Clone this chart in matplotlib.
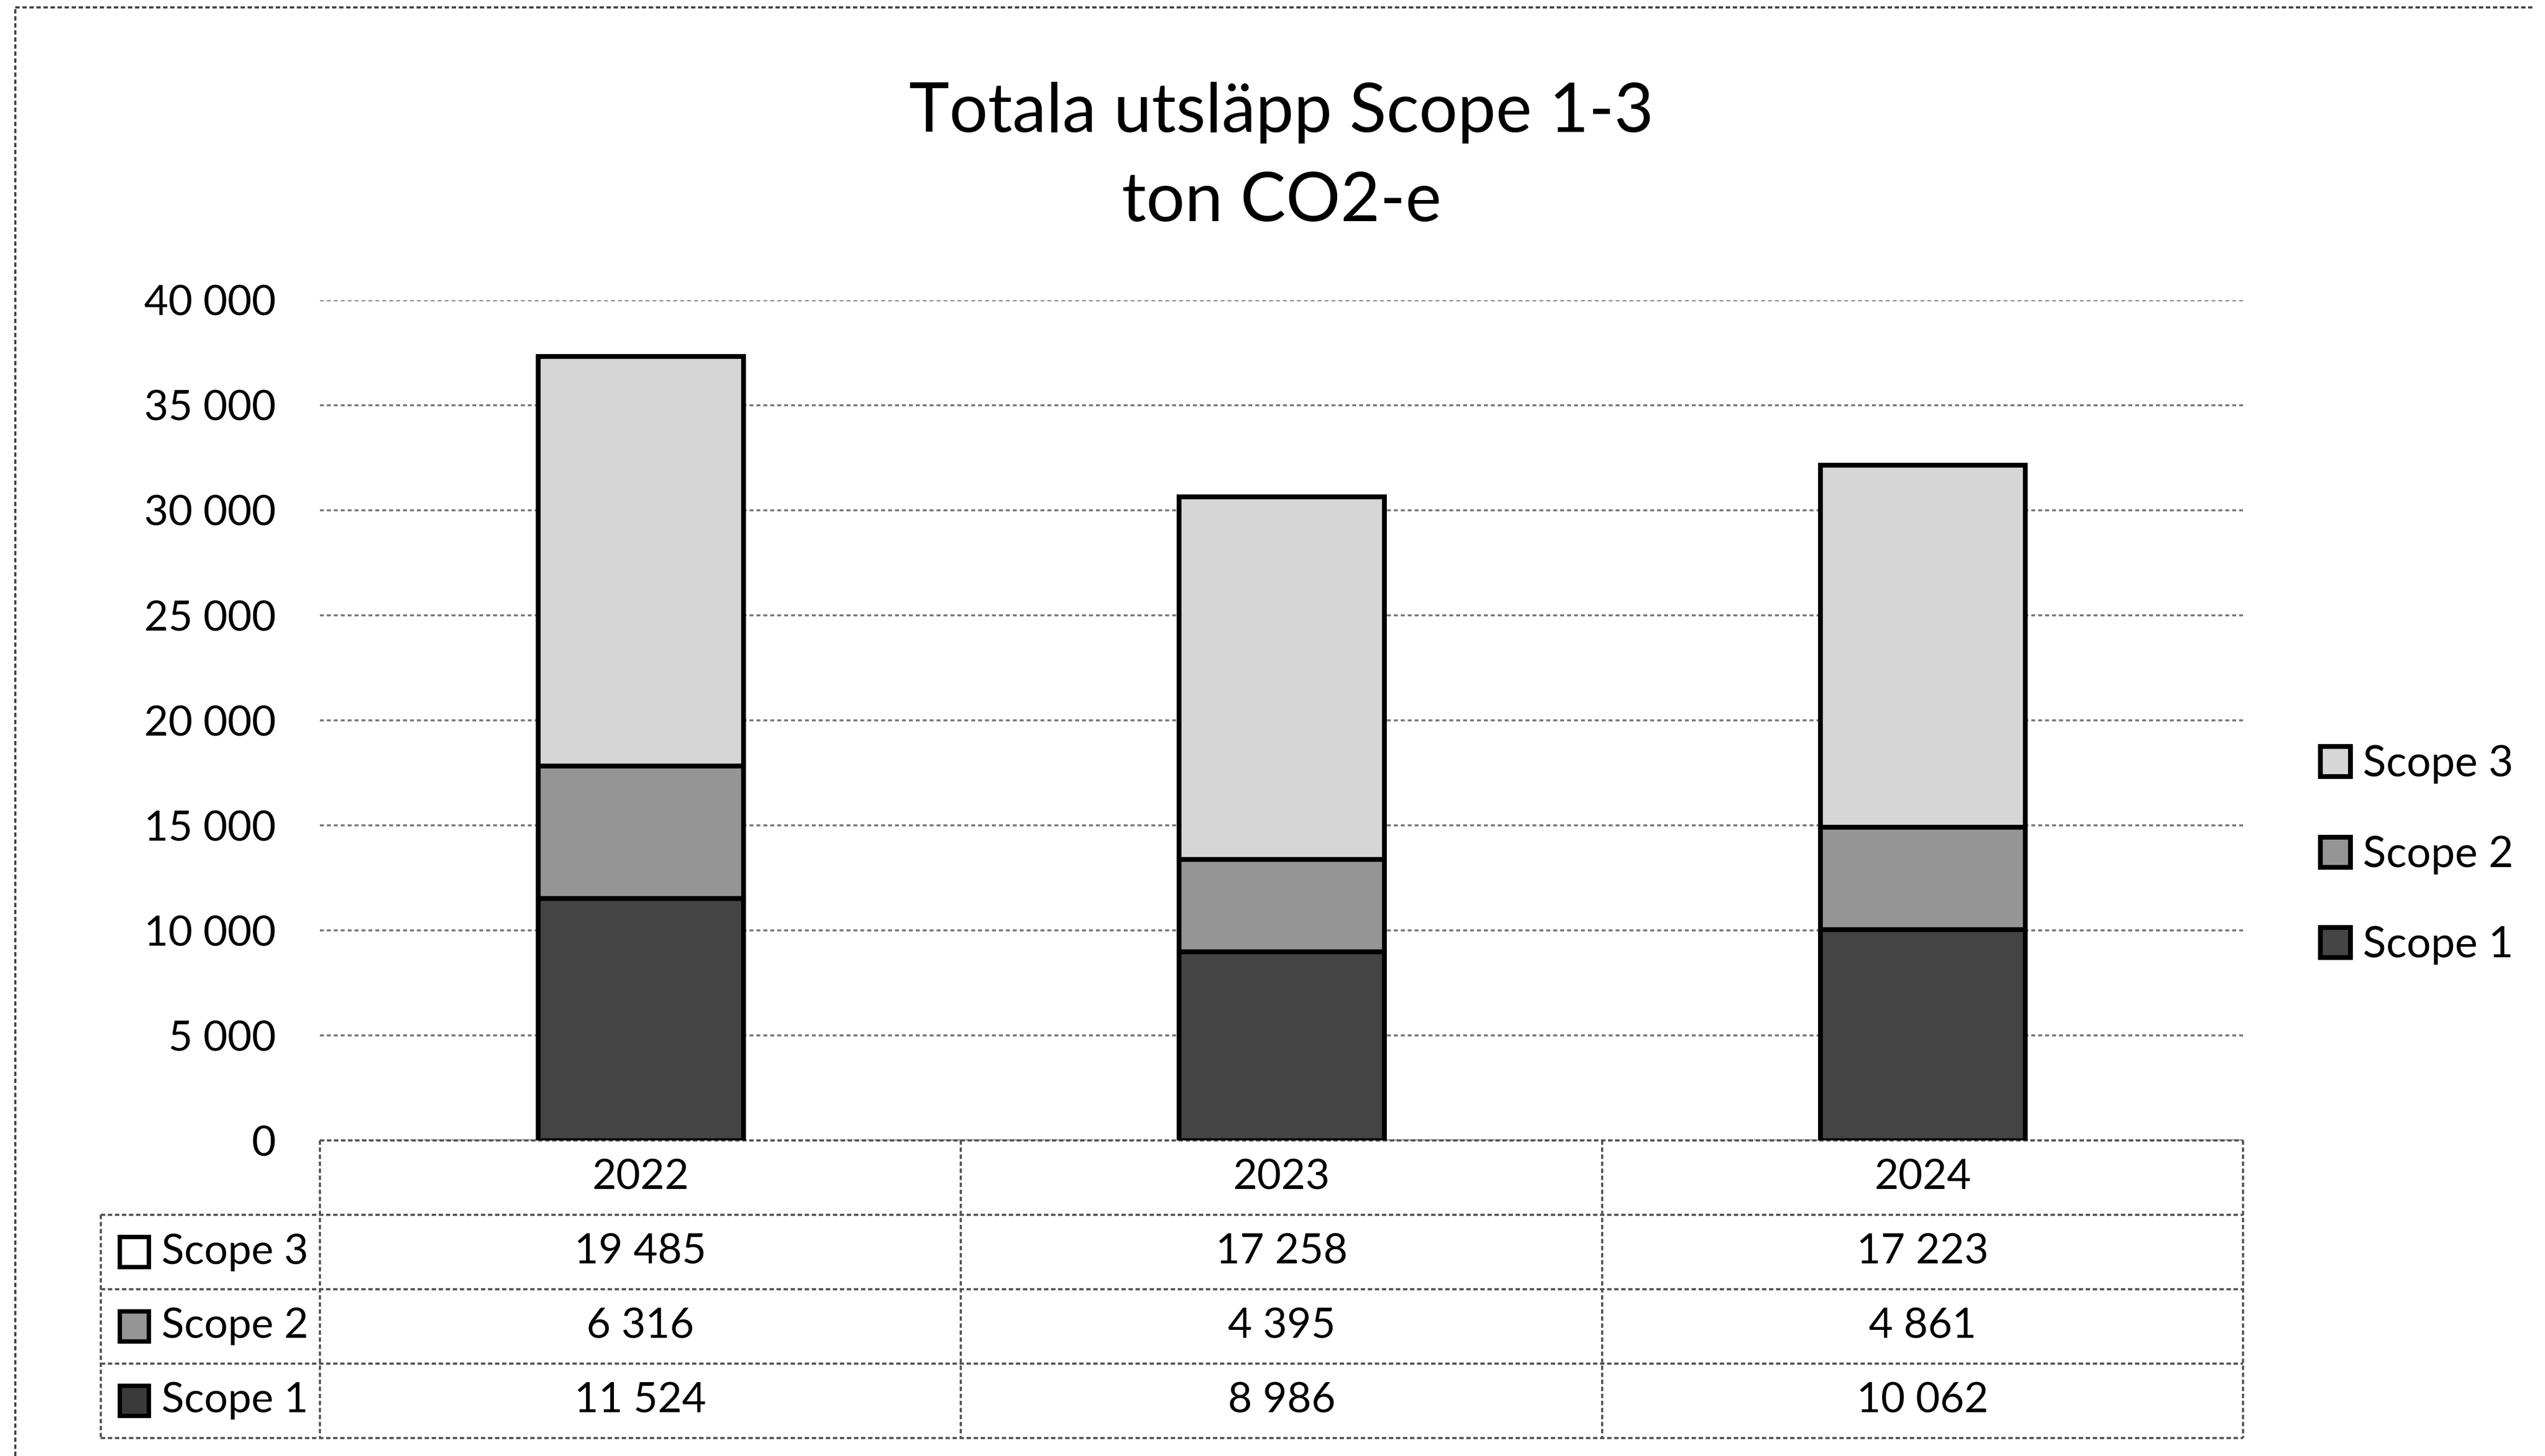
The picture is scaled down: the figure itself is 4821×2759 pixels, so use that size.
import matplotlib
matplotlib.use("Agg")
import matplotlib.pyplot as plt
from matplotlib.ticker import FuncFormatter
from matplotlib.patches import Rectangle
import numpy as np

plt.rcParams['font.family'] = ['Lato', 'DejaVu Sans']

# data
years = ['2022', '2023', '2024']
scope1 = [11524, 8986, 10062]
scope2 = [6316, 4395, 4861]
scope3 = [19485, 17258, 17223]
series_names = ['Scope 1', 'Scope 2', 'Scope 3']
series_colors = ['#444444', '#959595', '#d6d6d6']

fig = plt.figure(figsize=(16.07, 9.197), dpi=300)
ax = fig.add_axes([0.1257, 0.2167, 0.7557, 0.5771])

x = np.arange(len(years))
bw = 0.32
bottom = np.zeros(len(years))
handles = []
for vals, name, col in zip([scope1, scope2, scope3], series_names, series_colors):
    h = ax.bar(x, vals, bw, bottom=bottom, color=col, edgecolor='black',
               linewidth=2.2, label=name, zorder=3)
    handles.append(h)
    bottom += np.array(vals)

ax.set_xlim(-0.5, 2.5)
ax.set_ylim(0, 40000)
ax.set_yticks(range(0, 40001, 5000))
ax.yaxis.set_major_formatter(FuncFormatter(lambda v, p: f"{v:,.0f}".replace(",", " ")))
ax.tick_params(axis='y', length=0, labelsize=19, pad=20)
ax.set_xticks([])
ax.grid(axis='y', color='#777777', linestyle=(0, (2, 1.5)), linewidth=0.9, zorder=0)
for s in ax.spines.values():
    s.set_visible(False)

# title
ax.set_title('Totala utsläpp Scope 1-3\nton CO2-e', fontsize=31, linespacing=1.55, pad=36)

# legend on the right
leg = ax.legend(handles[::-1], series_names[::-1], loc='center left',
                bbox_to_anchor=(1.02, 0.34), frameon=False, fontsize=19.5,
                handlelength=0.7, handleheight=0.7, handletextpad=0.3,
                labelspacing=1.2)

# data table under the plot
tr = ax.get_xaxis_transform()
rh = 0.0885
left_x = -0.842
grid_kw = dict(color='#555555', linestyle=(0, (2, 1.2)), linewidth=1.0,
               transform=tr, clip_on=False)

# horizontal lines
ax.plot([-0.5, 2.5], [0, 0], **grid_kw)
for i in range(1, 5):
    ax.plot([left_x, 2.5], [-i * rh, -i * rh], **grid_kw)
# vertical lines
ax.plot([left_x, left_x], [-rh, -4 * rh], **grid_kw)
for xv in [-0.5, 0.5, 1.5, 2.5]:
    ax.plot([xv, xv], [0, -4 * rh], **grid_kw)

for j, yr in enumerate(years):
    ax.text(x[j], -0.5 * rh, yr, transform=tr, ha='center', va='center', fontsize=19)

rows = [('Scope 3', scope3, 'white'), ('Scope 2', scope2, '#959595'),
        ('Scope 1', scope1, '#3a3a3a')]
for i, (name, vals, col) in enumerate(rows):
    yc = -(i + 1.5) * rh
    ax.add_patch(Rectangle((left_x + 0.03, yc - 0.018), 0.045, 0.036, transform=tr,
                           facecolor=col, edgecolor='black', linewidth=2.0, clip_on=False))
    ax.text(left_x + 0.095, yc, name, transform=tr, ha='left', va='center', fontsize=19)
    for j, v in enumerate(vals):
        ax.text(x[j], yc, f"{v:,}".replace(",", " "), transform=tr,
                ha='center', va='center', fontsize=19)

# dotted outer frame (left and top)
fig.add_artist(plt.Line2D([0.006, 0.006], [0.0, 0.995], color='#444444',
                          linestyle=(0, (2, 1.2)), linewidth=1.0))
fig.add_artist(plt.Line2D([0.006, 0.995], [0.995, 0.995], color='#444444',
                          linestyle=(0, (2, 1.2)), linewidth=1.0))

fig.savefig('out.png', dpi=300, facecolor='white')
